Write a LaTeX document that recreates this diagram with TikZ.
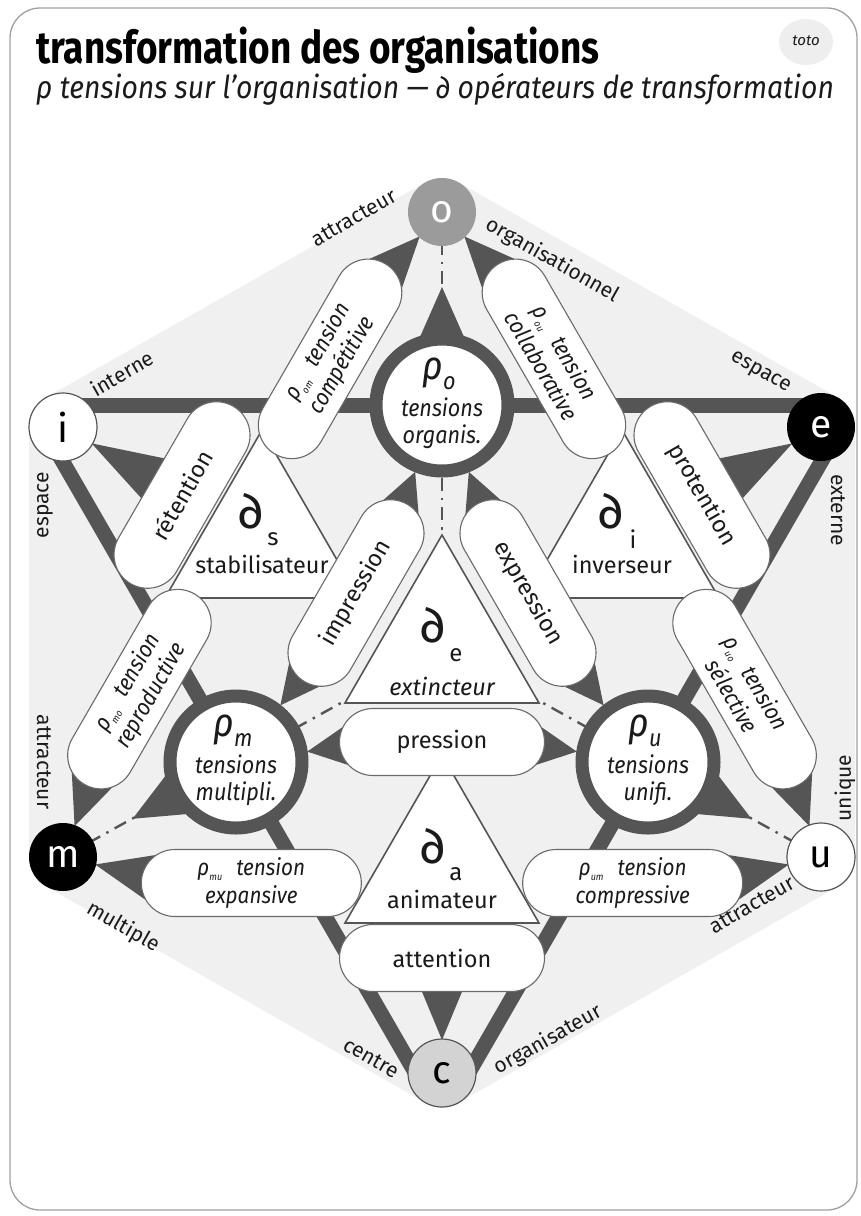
\documentclass[tikz,border=0pt]{standalone}
\usepackage{fontspec}
\setmainfont{Fira Sans}
\newfontfamily\condfont[FakeStretch=0.82]{Fira Sans}
\newfontfamily\midfont[FakeStretch=0.9]{Fira Sans}
\usetikzlibrary{calc}
\definecolor{hexbg}{HTML}{F0F0F0}
\definecolor{dark}{HTML}{555555}
\definecolor{pillline}{HTML}{6A6A6A}
\definecolor{onode}{HTML}{9B9B9B}
\definecolor{cnode}{HTML}{D3D3D3}
\definecolor{framecol}{HTML}{A0A0A0}
\definecolor{totobg}{HTML}{EEEEEE}
\definecolor{txt}{HTML}{1A1A1A}
\newcommand{\taper}[3]{\fill[dark] ($(#1)!#3!90:(#2)$) -- (#2) -- ($(#1)!#3!-90:(#2)$) -- cycle;}
\newcommand{\rsub}[1]{ρ\raisebox{-5pt}{\fontsize{10}{10}\selectfont #1}}
\begin{document}
\begin{tikzpicture}[x=1pt,y=-1pt,
  outer/.style={circle, minimum size=68pt, inner sep=0pt, font=\fontsize{39}{39}\selectfont},
  pill/.style={draw=pillline, line width=1.1pt, fill=white, rounded corners=33.5pt, minimum height=67pt, inner sep=0pt, align=center, text=txt},
  oppill/.style={pill, minimum width=205pt, font=\fontsize{23.5}{26}\selectfont},
  tenspill/.style={pill, minimum width=220pt, font=\midfont\itshape\fontsize{23}{27.5}\selectfont},
  rhonode/.style={circle, draw=dark, line width=13pt, fill=white, minimum size=132pt, inner sep=0pt},
  rhotext/.style={font=\midfont\itshape\fontsize{24}{24}\selectfont, text=txt, inner sep=0pt, anchor=base},
  optri/.style={draw=dark, line width=1.6pt, fill=white, line join=miter},
  bar/.style={draw=dark, line width=15pt},
  dashdot/.style={draw=dark, line width=2.4pt, dash pattern=on 13pt off 7pt on 2.5pt off 7pt},
  edgelab/.style={font=\fontsize{21}{21}\selectfont, text=txt, inner sep=0pt},
  dglyph/.style={font=\fontsize{50}{50}\selectfont, inner sep=0pt, text=txt},
  dsub/.style={font=\fontsize{24}{24}\selectfont, inner sep=0pt, text=txt},
  dname/.style={font=\fontsize{23.5}{24}\selectfont, inner sep=0pt, text=txt},
]
\useasboundingbox (0,0) rectangle (861,1216);
\fill[white] (0,0) rectangle (861,1216);
\draw[framecol, line width=1.3pt, rounded corners=30pt] (10,8) rectangle (857,1210);

% title
\node[anchor=base west, inner sep=0pt, text=black] (title) at (36,63) {\condfont\bfseries\fontsize{45}{45}\selectfont transformation des organisations};
\node[anchor=base west, inner sep=0pt, text=txt] (subtitle) at (36,98) {\midfont\itshape\fontsize{31.5}{32}\selectfont ρ tensions sur l’organisation — ∂ opérateurs de transformation};
\fill[totobg] (806,42) ellipse [x radius=27, y radius=23];
\node[inner sep=0pt, text=txt] (toto) at (806,41) {\itshape\fontsize{15}{15}\selectfont toto};

% geometry
\coordinate (po) at (442,212);
\coordinate (pi) at (63,427);
\coordinate (pe) at (821,427);
\coordinate (pm) at (63,857);
\coordinate (pu) at (821,857);
\coordinate (pc) at (442,1073);
\coordinate (Vi) at (30,405);
\coordinate (Ve) at (854,405);
\coordinate (Vc) at (442,1119);
\coordinate (Vo) at (442,165);
\coordinate (Vm) at (27.5,883);
\coordinate (Vu) at (856.5,883);
\coordinate (cro) at ($(Vi)!0.5!(Ve)$);
\coordinate (crm) at ($(Vi)!0.5!(Vc)$);
\coordinate (cru) at ($(Ve)!0.5!(Vc)$);
\coordinate (pom) at ($(Vo)!0.27!(Vm)$);
\coordinate (pmo) at ($(Vo)!0.73!(Vm)$);
\coordinate (pou) at ($(Vo)!0.27!(Vu)$);
\coordinate (puo) at ($(Vo)!0.73!(Vu)$);
\coordinate (pmu) at ($(Vm)!0.27!(Vu)$);
\coordinate (pum) at ($(Vm)!0.73!(Vu)$);
\coordinate (cret) at (182,495);
\coordinate (cpro) at (702,495);
\coordinate (cimp) at (356,593);
\coordinate (cexp) at (528,593);
\coordinate (cpre) at (442,742);
\coordinate (catt) at (442,958);
\coordinate (ds) at (262,542);
\coordinate (di) at (622,542);
\coordinate (de) at (442,647);
\coordinate (da) at (442,867);

% hexagon background
\filldraw[hexbg, line width=68pt, line join=round] (po) -- (pe) -- (pu) -- (pc) -- (pm) -- (pi) -- cycle;

% edge labels
\node[edgelab, rotate=29.6] (l-att1) at (354,218) {attracteur};
\node[edgelab, rotate=29.6] (l-int) at (122,373) {interne};
\node[edgelab, rotate=-29.6] (l-org1) at (552,260) {organisationnel};
\node[edgelab, rotate=-29.6] (l-esp1) at (760,373) {espace};
\node[edgelab, rotate=90] (l-esp2) at (45,505) {espace};
\node[edgelab, rotate=-90] (l-att2) at (44,762) {attracteur};
\node[edgelab, rotate=-90] (l-ext) at (838,510) {externe};
\node[edgelab, rotate=90] (l-uni) at (845,788) {unique};
\node[edgelab, rotate=-29.6] (l-mul) at (123,927) {multiple};
\node[edgelab, rotate=-29.6] (l-cen) at (371,1058) {centre};
\node[edgelab, rotate=29.6] (l-org2) at (548,1040) {organisateur};
\node[edgelab, rotate=29.6] (l-att3) at (752,905) {attracteur};

% dash-dot axes
\draw[dashdot] (po) -- (de);
\draw[dashdot] (pm) -- (de);
\draw[dashdot] (pu) -- (de);

% thick bars
\draw[bar] ($(Vi)!0.04!(Ve)$) -- ($(Vi)!0.96!(Ve)$);
\draw[bar] ($(Vi)!0.05!(Vc)$) -- ($(Vi)!0.94!(Vc)$);
\draw[bar] ($(Ve)!0.05!(Vc)$) -- ($(Ve)!0.94!(Vc)$);

% tapered connectors
\coordinate (w1) at ($(pom)!76.5pt!(Vo)$); \coordinate (t1) at ($(po)!33pt!(w1)$); \taper{w1}{t1}{33pt}
\coordinate (w2) at ($(pou)!76.5pt!(Vo)$); \coordinate (t2) at ($(po)!33pt!(w2)$); \taper{w2}{t2}{33pt}
\coordinate (w3) at ($(pmo)!76.5pt!(Vm)$); \coordinate (t3) at ($(pm)!33pt!(w3)$); \taper{w3}{t3}{33pt}
\coordinate (w4) at ($(pmu)!76.5pt!(Vm)$); \coordinate (t4) at ($(pm)!33pt!(w4)$); \taper{w4}{t4}{33pt}
\coordinate (w5) at ($(puo)!76.5pt!(Vu)$); \coordinate (t5) at ($(pu)!33pt!(w5)$); \taper{w5}{t5}{33pt}
\coordinate (w6) at ($(pum)!76.5pt!(Vu)$); \coordinate (t6) at ($(pu)!33pt!(w6)$); \taper{w6}{t6}{33pt}
\coordinate (t7) at ($(pi)!33pt!(cret)$); \taper{cret}{t7}{34pt}
\coordinate (t8) at ($(pe)!33pt!(cpro)$); \taper{cpro}{t8}{34pt}
\coordinate (t9) at ($(pc)!33pt!(catt)$); \taper{catt}{t9}{34pt}
\coordinate (wi1) at ($(cimp)+(34.5,-59.8)$); \coordinate (ti1) at ($(cro)!72pt!(wi1)$); \taper{wi1}{ti1}{33pt}
\coordinate (wi2) at ($(cimp)+(-34.5,59.8)$); \coordinate (ti2) at ($(crm)!72pt!(wi2)$); \taper{wi2}{ti2}{33pt}
\coordinate (we1) at ($(cexp)+(-34.5,-59.8)$); \coordinate (te1) at ($(cro)!72pt!(we1)$); \taper{we1}{te1}{33pt}
\coordinate (we2) at ($(cexp)+(34.5,59.8)$); \coordinate (te2) at ($(cru)!72pt!(we2)$); \taper{we2}{te2}{33pt}
\coordinate (wp1) at ($(cpre)+(-69,0)$); \coordinate (tp1) at ($(crm)!72pt!(wp1)$); \taper{wp1}{tp1}{33pt}
\coordinate (wp2) at ($(cpre)+(69,0)$); \coordinate (tp2) at ($(cru)!72pt!(wp2)$); \taper{wp2}{tp2}{33pt}
\coordinate (tro) at ($(cro)!118pt!(po)$); \taper{cro}{tro}{52pt}
\coordinate (trm) at ($(crm)!118pt!(pm)$); \taper{crm}{trm}{52pt}
\coordinate (tru) at ($(cru)!118pt!(pu)$); \taper{cru}{tru}{52pt}

% operator triangles
\foreach \t in {ds,di,de,da}{
  \draw[optri] ($(\t)+(0,-112)$) -- ($(\t)+(97,56)$) -- ($(\t)+(-97,56)$) -- cycle;
}
\node[dglyph] (ds-g) at (251,511) {∂};
\node[dsub] (ds-s) at (273,539) {s};
\node[dname] (ds-n) at (262,564) {stabilisateur};
\node[dglyph] (di-g) at (611,511) {∂};
\node[dsub] (di-s) at (633,539) {i};
\node[dname] (di-n) at (622,564) {inverseur};
\node[dglyph] (de-g) at (433,625) {∂};
\node[dsub] (de-s) at (456,655) {e};
\node[dname, font=\itshape\fontsize{23.5}{24}\selectfont] (de-n) at (442,686) {extincteur};
\node[dglyph] (da-g) at (433,846) {∂};
\node[dsub] (da-s) at (456,874) {a};
\node[dname] (da-n) at (442,899) {animateur};

% operator pills
\node[oppill, rotate=60] (ret) at (cret) {rétention};
\node[oppill, rotate=-60] (pro) at (cpro) {protention};
\node[oppill, rotate=60] (imp) at (cimp) {impression};
\node[oppill, rotate=-60] (exp) at (cexp) {expression};
\node[oppill] (pre) at (cpre) {pression};
\node[oppill] (att) at (catt) {attention};

% tension pills
\node[tenspill, rotate=60] (tom) at (pom) {\rsub{om}\hspace{14pt}tension\\compétitive};
\node[tenspill, rotate=-60] (tou) at (pou) {\rsub{ou}\hspace{14pt}tension\\collaborative};
\node[tenspill, rotate=60] (tmo) at (pmo) {\rsub{mo}\hspace{14pt}tension\\reproductive};
\node[tenspill, rotate=-60] (tuo) at (puo) {\rsub{uo}\hspace{14pt}tension\\sélective};
\node[tenspill] (tmu) at (pmu) {\rsub{mu}\hspace{14pt}tension\\expansive};
\node[tenspill] (tum) at (pum) {\rsub{um}\hspace{14pt}tension\\compressive};

% rho circles
\node[rhonode] (ro) at (cro) {};
\node[rhonode] (rm) at (crm) {};
\node[rhonode] (ru) at (cru) {};
\foreach \n/\s/\w in {ro/o/organis., rm/m/multipli., ru/u/unifi.}{
  \node[rhotext] (\n-a) at ($(\n)+(-3,-26)$) {{\fontsize{40}{40}\selectfont ρ}\raisebox{-10pt}{\s}};
  \node[rhotext] (\n-b) at ($(\n)+(0,11)$) {tensions};
  \node[rhotext] (\n-c) at ($(\n)+(0,38)$) {\w};
}

% outer nodes
\node[outer, fill=onode, text=white] (o) at (po) {o};
\node[outer, fill=white, draw=dark, line width=1.2pt, text=black] (i) at (pi) {i};
\node[outer, fill=black, text=white] (e) at (pe) {e};
\node[outer, fill=black, text=white] (m) at (pm) {m};
\node[outer, fill=white, draw=dark, line width=1.2pt, text=black] (u) at (pu) {u};
\node[outer, fill=cnode, draw=dark, line width=1.2pt, text=black] (c) at (pc) {c};
\end{tikzpicture}
\end{document}
